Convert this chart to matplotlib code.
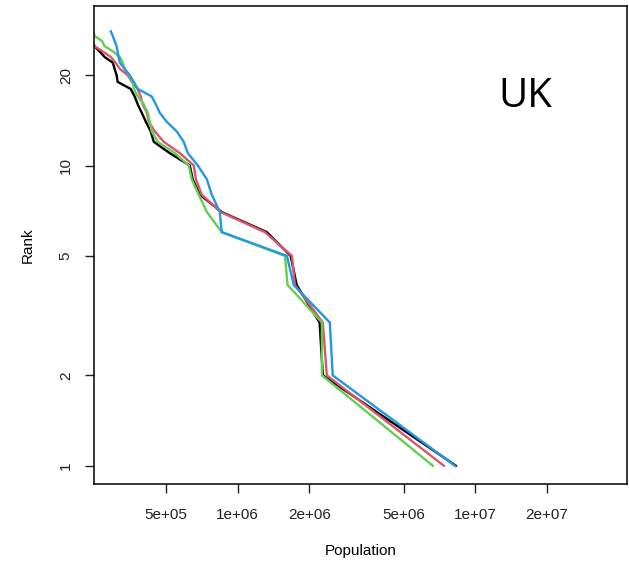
import matplotlib.pyplot as plt
from matplotlib.ticker import FixedLocator, NullLocator

# rank-size curves, ranks 1..N, populations
pop_black = [8.28e6, 2.28e6, 2.21e6, 1.77e6, 1.67e6, 1.325e6, 0.856e6, 0.692e6, 0.646e6, 0.628e6,
             0.517e6, 0.443e6, 0.430e6, 0.410e6, 0.394e6, 0.379e6, 0.368e6, 0.354e6, 0.312e6, 0.309e6,
             0.303e6, 0.298e6, 0.275e6, 0.262e6, 0.249e6, 0.245e6, 0.240e6, 0.236e6, 0.232e6, 0.228e6]
pop_red = [7.37e6, 2.37e6, 2.28e6, 1.74e6, 1.69e6, 1.30e6, 0.848e6, 0.705e6, 0.666e6, 0.653e6,
           0.570e6, 0.488e6, 0.447e6, 0.422e6, 0.414e6, 0.398e6, 0.390e6, 0.379e6, 0.358e6, 0.344e6,
           0.319e6, 0.306e6, 0.292e6, 0.270e6, 0.249e6, 0.245e6, 0.240e6, 0.236e6, 0.232e6, 0.228e6]
pop_green = [6.62e6, 2.26e6, 2.26e6, 1.62e6, 1.58e6, 0.856e6, 0.741e6, 0.685e6, 0.640e6, 0.622e6,
             0.543e6, 0.460e6, 0.434e6, 0.426e6, 0.418e6, 0.402e6, 0.379e6, 0.365e6, 0.361e6, 0.348e6,
             0.334e6, 0.328e6, 0.319e6, 0.298e6, 0.275e6, 0.268e6, 0.250e6, 0.246e6, 0.242e6, 0.238e6]
pop_blue = [8.20e6, 2.51e6, 2.44e6, 1.72e6, 1.61e6, 0.856e6, 0.840e6, 0.777e6, 0.741e6, 0.679e6,
            0.616e6, 0.592e6, 0.553e6, 0.502e6, 0.469e6, 0.452e6, 0.434e6, 0.379e6, 0.365e6, 0.351e6,
            0.334e6, 0.319e6, 0.315e6, 0.312e6, 0.309e6, 0.303e6, 0.298e6, 0.292e6]

series = [(pop_black, '#000000'), (pop_red, '#DF536B'), (pop_green, '#61D04F'), (pop_blue, '#2297E6')]

x_ticks = [5e5, 1e6, 2e6, 5e6, 1e7, 2e7]
x_labels = ['5e+05', '1e+06', '2e+06', '5e+06', '1e+07', '2e+07']
y_ticks = [1, 2, 5, 10, 20]

plt.rcParams['font.family'] = ['Liberation Sans', 'DejaVu Sans']

fig = plt.figure(figsize=(6.29, 5.63), dpi=100)
ax = fig.add_axes([0.150, 0.1403, 0.8476, 0.849])

for pops, color in series:
    ranks = list(range(1, len(pops) + 1))
    ax.plot(pops, ranks, color=color, lw=1.7, solid_joinstyle='miter')

ax.set_xscale('log')
ax.set_yscale('log')
ax.set_xlim(2.49e5, 4.37e7)
ax.set_ylim(0.869, 34.0)

ax.xaxis.set_major_locator(FixedLocator(x_ticks))
ax.xaxis.set_minor_locator(NullLocator())
ax.set_xticklabels(x_labels)
ax.yaxis.set_major_locator(FixedLocator(y_ticks))
ax.yaxis.set_minor_locator(NullLocator())
ax.set_yticklabels([str(v) for v in y_ticks], rotation=90, va='center')

ax.tick_params(axis='both', direction='out', length=6.5, width=1.0, labelsize=11, colors='#222222')
ax.tick_params(axis='x', pad=10.5)
ax.tick_params(axis='y', pad=9)
for s in ax.spines.values():
    s.set_linewidth(1.1)

ax.set_xlabel('Population', fontsize=11, labelpad=16)
ax.set_ylabel('Rank', fontsize=11, labelpad=17)

ax.text(0.808, 0.789, 'UK', transform=ax.transAxes, fontsize=29, family=['Open Sans', 'DejaVu Sans'],
        ha='center', va='baseline')

plt.savefig('out.png', dpi=100)
